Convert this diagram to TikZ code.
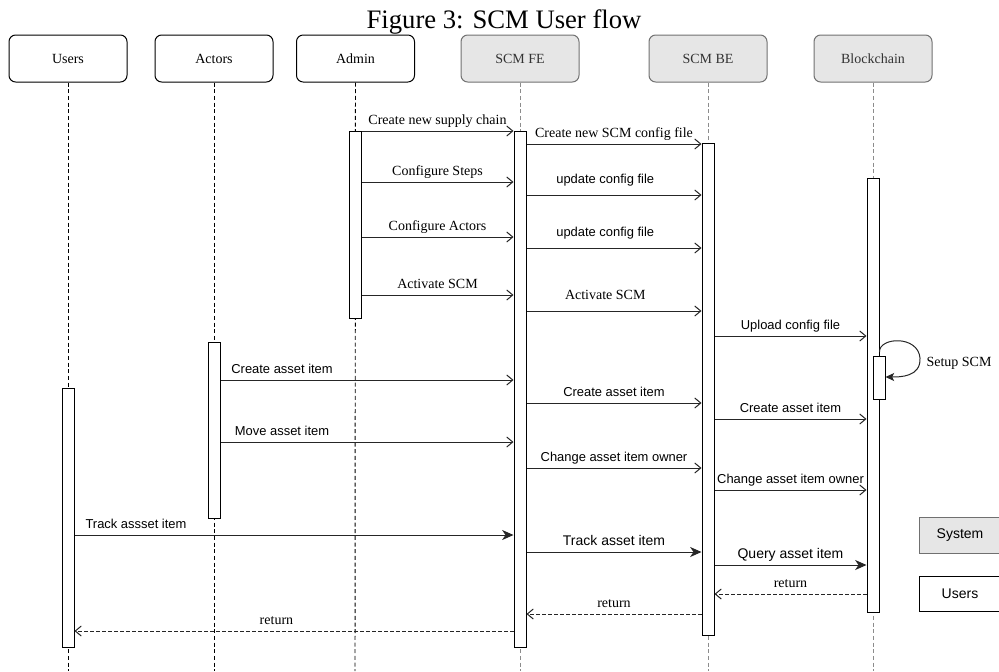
\documentclass[tikz,border=0pt]{standalone}
\usepackage{fontspec}
\setmainfont{Liberation Serif}
\setsansfont{Liberation Sans}
\usetikzlibrary{arrows.meta,fit}

\definecolor{boxgrey}{HTML}{E6E6E6}
\definecolor{edgegrey}{HTML}{707070}
\definecolor{lifegrey}{HTML}{8C8C8C}

\begin{document}
\begin{tikzpicture}[x=0.75pt, y=-0.75pt,
  every node/.style = {align=center},
  lane/.style = {shape=rectangle, rounded corners=5pt, line width=0.75pt,
    minimum width=88.5pt, minimum height=35.25pt, font=\fontsize{10.5}{12}\selectfont},
  user/.style = {lane, draw=black, fill=white},
  sys/.style = {lane, draw=edgegrey, fill=boxgrey, text=black!80},
  life/.style = {line width=0.7pt, dash pattern=on 3pt off 2pt},
  syslife/.style = {life, draw=lifegrey},
  bar/.style = {draw, fill=white, inner sep=0pt, line width=0.75pt},
  msg/.style = {draw=black!85, line width=0.75pt, -{Straight Barb[length=4.5pt,width=7.5pt]}},
  call/.style = {msg, -{Stealth[length=8.5pt,width=7.5pt,inset=2.5pt]}},
  loopcall/.style = {msg, -{Stealth[length=6.5pt,width=6pt,inset=1.5pt]}},
  ret/.style = {msg, dash pattern=on 2.5pt off 2pt},
  lbl/.style = {anchor=base, yshift=#1, inner sep=0pt, font=\fontsize{10.5}{12}\selectfont},
  lbl/.default = 4.8pt,
  sanslbl/.style = {font=\sffamily\fontsize{9.7}{11}\selectfont},
  bigsanslbl/.style = {font=\sffamily\fontsize{10.5}{12}\selectfont},
  legend/.style = {draw, line width=0.75pt, minimum width=61.5pt, minimum height=26.5pt,
    font=\sffamily\fontsize{10.5}{12}\selectfont}]
\useasboundingbox (0,0) rectangle (999,671);

\node[anchor=base, font=\fontsize{20}{24}\selectfont] (title) at (504,28) {Figure 3: SCM User flow};

\node[user] (users) at (68,58.5) {Users};
\node[user] (actors) at (214,58.5) {Actors};
\node[user] (admin) at (355.5,58.5) {Admin};
\node[sys] (fe) at (520,58.5) {SCM FE};
\node[sys] (be) at (708,58.5) {SCM BE};
\node[sys] (bc) at (873,58.5) {Blockchain};

\coordinate (usersend) at (68,671);
\coordinate (actorsend) at (214,671);
\coordinate (adminend) at (355,671);
\coordinate (feend) at (520,671);
\coordinate (beend) at (708,671);
\coordinate (bcend) at (873,671);
\draw[life] (users) -- (usersend);
\draw[life] (actors) -- (actorsend);
\draw[life] (admin) -- (adminend);
\draw[syslife] (fe) -- (feend);
\draw[syslife] (be) -- (beend);
\draw[syslife] (bc) -- (bcend);

\node[bar, fit={(62,388) (74,647)}] (usersbar) {};
\node[bar, fit={(208,342) (220,518)}] (actorsbar) {};
\node[bar, fit={(349,131) (361,318)}] (adminbar) {};
\node[bar, fit={(514,131) (526,647)}] (febar) {};
\node[bar, fit={(702,143) (714,635)}] (bebar) {};
\node[bar, fit={(867,178) (879,612)}] (bcbar) {};
\node[bar, fit={(873,356) (885,399)}] (setupbar) {};

\draw[msg] (adminbar.east |- 0,131) -- node[lbl] {Create new supply chain} (febar.west |- 0,131);
\draw[msg] (febar.east |- 0,144) -- node[lbl] {Create new SCM config file} (bebar.west |- 0,144);
\draw[msg] (adminbar.east |- 0,182) -- node[lbl] {Configure Steps} (febar.west |- 0,182);
\draw[msg] (febar.east |- 0,195) -- node[lbl=8.5pt, sanslbl, pos=0.45] {update config file} (bebar.west |- 0,195);
\draw[msg] (adminbar.east |- 0,237) -- node[lbl] {Configure Actors} (febar.west |- 0,237);
\draw[msg] (febar.east |- 0,248) -- node[lbl=8.5pt, sanslbl, pos=0.45] {update config file} (bebar.west |- 0,248);
\draw[msg] (adminbar.east |- 0,295) -- node[lbl] {Activate SCM} (febar.west |- 0,295);
\draw[msg] (febar.east |- 0,311) -- node[lbl=8.5pt, pos=0.45] {Activate SCM} (bebar.west |- 0,311);
\draw[msg] (bebar.east |- 0,336) -- node[lbl, sanslbl] {Upload config file} (bcbar.west |- 0,336);
\draw[loopcall] (bcbar.east |- 0,352) .. controls (879,337) and (918,335) .. (920,358)
  .. controls (921,377) and (900,377) .. (setupbar.east |- 0,377);
\node[font=\fontsize{10.5}{12}\selectfont] (setup) at (959,363) {Setup SCM};
\draw[msg] (actorsbar.east |- 0,380) -- node[lbl, sanslbl, pos=0.21] {Create asset item} (febar.west |- 0,380);
\draw[msg] (febar.east |- 0,403) -- node[lbl, sanslbl] {Create asset item} (bebar.west |- 0,403);
\draw[msg] (bebar.east |- 0,419) -- node[lbl, sanslbl] {Create asset item} (bcbar.west |- 0,419);
\draw[msg] (actorsbar.east |- 0,442) -- node[lbl, sanslbl, pos=0.21] {Move asset item} (febar.west |- 0,442);
\draw[msg] (febar.east |- 0,468) -- node[lbl, sanslbl] {Change asset item owner} (bebar.west |- 0,468);
\draw[msg] (bebar.east |- 0,490) -- node[lbl, sanslbl] {Change asset item owner} (bcbar.west |- 0,490);
\draw[call] (usersbar.east |- 0,535) -- node[lbl, sanslbl, pos=0.14] {Track assset item} (febar.west |- 0,535);
\draw[call] (febar.east |- 0,552) -- node[lbl, bigsanslbl] {Track asset item} (bebar.west |- 0,552);
\draw[call] (bebar.east |- 0,565) -- node[lbl, bigsanslbl] {Query asset item} (bcbar.west |- 0,565);
\draw[ret] (bcbar.west |- 0,594) -- node[lbl] {return} (bebar.east |- 0,594);
\draw[ret] (bebar.west |- 0,614) -- node[lbl] {return} (febar.east |- 0,614);
\draw[ret] (febar.west |- 0,631) -- node[lbl, pos=0.54] {return} (usersbar.east |- 0,631);

\node[legend, draw=edgegrey, fill=boxgrey] (legsystem) at (960,535.5) {System};
\node[legend, fill=white] (legusers) at (960,594) {Users};
\end{tikzpicture}
\end{document}
